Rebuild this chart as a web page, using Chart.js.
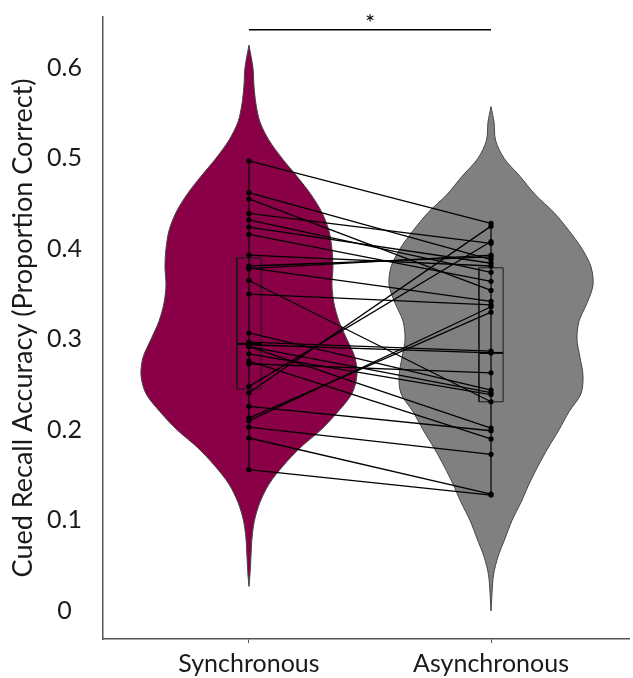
<!DOCTYPE html>
<html>
<head>
<meta charset="utf-8">
<script src="https://cdn.jsdelivr.net/npm/chart.js@4/dist/chart.umd.min.js"></script>
<style>
  html, body { margin: 0; padding: 0; background: #fff; }
  #wrap { width: 633px; height: 678px; }
</style>
</head>
<body>
<div id="wrap"><canvas id="chart"></canvas></div>
<script>
// categorie e tick
const conditions = ['Synchronous', 'Asynchronous'];
const yTicks = [0, 0.1, 0.2, 0.3, 0.4, 0.5, 0.6];

// punteggi appaiati (stesso indice = stesso partecipante)
const syncScores = [0.497, 0.462, 0.455, 0.439, 0.432, 0.424, 0.416, 0.393, 0.381, 0.379,
  0.378, 0.365, 0.350, 0.307, 0.297, 0.294, 0.292, 0.292, 0.284, 0.276,
  0.273, 0.248, 0.241, 0.226, 0.213, 0.210, 0.203, 0.191, 0.156];
const asyncScores = [0.428, 0.388, 0.354, 0.406, 0.374, 0.384, 0.364, 0.381, 0.391, 0.342,
  0.393, 0.231, 0.338, 0.244, 0.287, 0.285, 0.241, 0.202, 0.239, 0.190,
  0.263, 0.408, 0.425, 0.199, 0.330, 0.336, 0.173, 0.129, 0.128];

// boxplot
const boxQ1 = [0.245, 0.231];
const boxMedian = [0.295, 0.285];
const boxQ3 = [0.390, 0.379];

// densità dei violini (dall'alto verso il basso)
const syncViolinY = [0.625, 0.60, 0.58, 0.56, 0.54, 0.52, 0.50, 0.48, 0.46, 0.44, 0.42, 0.40, 0.38, 0.36,
  0.34, 0.32, 0.30, 0.28, 0.26, 0.24, 0.22, 0.20, 0.18, 0.16, 0.14, 0.12, 0.10, 0.08, 0.06, 0.04, 0.027];
const syncViolinDensity = [0, 0.04, 0.05, 0.07, 0.11, 0.20, 0.33, 0.48, 0.62, 0.73, 0.80, 0.83, 0.84, 0.83,
  0.85, 0.90, 0.98, 1.06, 1.08, 1.03, 0.89, 0.72, 0.51, 0.34, 0.20, 0.11, 0.055, 0.03, 0.02, 0.01, 0];
const asyncViolinY = [0.557, 0.54, 0.52, 0.50, 0.48, 0.46, 0.44, 0.42, 0.40, 0.38, 0.36, 0.34, 0.32, 0.30,
  0.28, 0.26, 0.24, 0.22, 0.20, 0.18, 0.16, 0.14, 0.12, 0.10, 0.08, 0.06, 0.04, 0.02, 0];
const asyncViolinDensity = [0, 0.03, 0.045, 0.13, 0.29, 0.44, 0.63, 0.78, 0.91, 1.00, 1.02, 0.96, 0.88, 0.86,
  0.89, 0.92, 0.90, 0.78, 0.68, 0.57, 0.47, 0.38, 0.30, 0.21, 0.14, 0.07, 0.025, 0.01, 0];

// barra di significatività
const sigLevel = 0.642;
const sigLabel = '*';

const violinScale = 0.413;
const boxHalf = 0.05;
const FONT = 'Lato, "Noto Sans", sans-serif';

function violinShape(center, ys, dens) {
  const right = ys.map((y, i) => ({ x: center + dens[i] * violinScale, y }));
  const left = ys.map((y, i) => ({ x: center - dens[i] * violinScale, y })).reverse();
  return right.concat(left);
}

const violins = [
  { ys: syncViolinY, dens: syncViolinDensity, color: '#8a0046' },
  { ys: asyncViolinY, dens: asyncViolinDensity, color: '#808080' }
].map((v, i) => ({
  data: violinShape(i + 1, v.ys, v.dens),
  backgroundColor: v.color,
  borderColor: '#444',
  borderWidth: 1,
  pointRadius: 0,
  tension: 0.3,
  fill: 'shape',
  order: 10
}));

const boxes = [];
[syncScores, asyncScores].forEach((scores, i) => {
  const c = i + 1;
  boxes.push({
    data: [{ x: c, y: Math.min(...scores) }, { x: c, y: Math.max(...scores) }],
    borderColor: '#000', borderWidth: 1.2, pointRadius: 0, fill: false, order: 6
  });
  boxes.push({
    data: [
      { x: c - boxHalf, y: boxQ1[i] }, { x: c + boxHalf, y: boxQ1[i] },
      { x: c + boxHalf, y: boxQ3[i] }, { x: c - boxHalf, y: boxQ3[i] },
      { x: c - boxHalf, y: boxQ1[i] }
    ],
    borderColor: '#1a1a1a', borderWidth: 1, pointRadius: 0, fill: false, order: 5
  });
  boxes.push({
    data: [{ x: c - boxHalf, y: boxMedian[i] }, { x: c + boxHalf, y: boxMedian[i] }],
    borderColor: '#000', borderWidth: 2, pointRadius: 0, fill: false, order: 5
  });
});

const pairs = syncScores.map((s, i) => ({
  data: [{ x: 1, y: s }, { x: 2, y: asyncScores[i] }],
  borderColor: '#000',
  borderWidth: 1.3,
  pointRadius: 2.6,
  pointBackgroundColor: '#000',
  pointBorderWidth: 0,
  fill: false,
  order: 1
}));

const sigBar = {
  data: [{ x: 1, y: sigLevel }, { x: 2, y: sigLevel }],
  borderColor: '#000', borderWidth: 1.5, pointRadius: 0, fill: false, order: 1
};

const sigText = {
  id: 'sigText',
  afterDatasetsDraw(chart) {
    const { ctx, scales: { x, y } } = chart;
    ctx.save();
    ctx.font = '24px ' + FONT;
    ctx.fillStyle = '#000';
    ctx.textAlign = 'center';
    ctx.textBaseline = 'alphabetic';
    ctx.fillText(sigLabel, x.getPixelForValue(1.5), y.getPixelForValue(sigLevel) + 1);
    ctx.restore();
  }
};

const ctx = document.getElementById('chart').getContext('2d');

const chart = new Chart(ctx, {
  type: 'line',
  data: { datasets: [...pairs, sigBar, ...boxes, ...violins] },
  options: {
    responsive: true,
    maintainAspectRatio: false,
    animation: false,
    layout: { padding: { top: 17, right: 3, left: 0, bottom: 0 } },
    plugins: { legend: { display: false }, tooltip: { enabled: false } },
    scales: {
      x: {
        type: 'linear',
        min: 0.397,
        max: 2.57,
        afterBuildTicks: scale => { scale.ticks = [{ value: 1 }, { value: 2 }]; },
        afterFit: scale => { scale.height = 39; scale.paddingLeft = 0; scale.paddingRight = 0; },
        ticks: {
          callback: v => conditions[v - 1],
          font: { family: FONT, size: 25 },
          color: '#1a1a1a',
          padding: 6,
          maxRotation: 0
        },
        grid: { display: true, drawOnChartArea: false, tickLength: 4, color: '#555' },
        border: { display: true, color: '#555', width: 1.5 }
      },
      y: {
        type: 'linear',
        min: -0.031,
        max: 0.656,
        afterBuildTicks: scale => { scale.ticks = yTicks.map(v => ({ value: v })); },
        afterFit: scale => { scale.width = 103; scale.paddingTop = 0; scale.paddingBottom = 0; },
        ticks: {
          callback: v => String(v),
          font: { family: FONT, size: 25 },
          color: '#1a1a1a',
          padding: 21,
          crossAlign: 'center'
        },
        grid: { display: false, drawTicks: false },
        border: { display: true, color: '#555', width: 1.5 },
        title: {
          display: true,
          text: 'Cued Recall Accuracy (Proportion Correct)',
          font: { family: FONT, size: 27 },
          color: '#1a1a1a',
          padding: { top: 7, bottom: 0 }
        }
      }
    }
  },
  plugins: [sigText]
});
</script>
</body>
</html>
